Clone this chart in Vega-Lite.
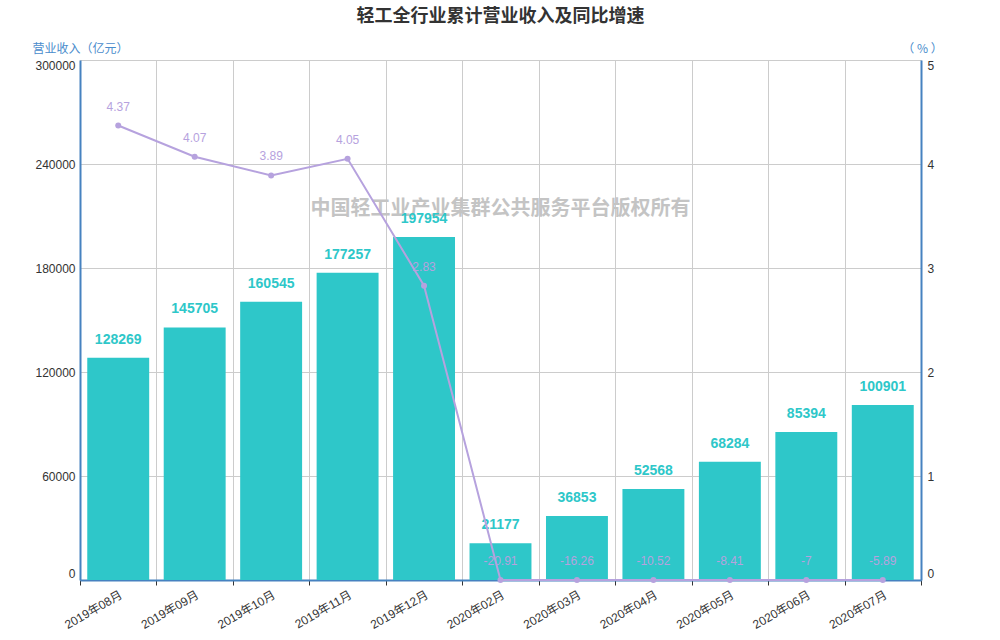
{
  "$schema": "https://vega.github.io/schema/vega-lite/v6.json",
  "autosize": {"type": "none"},
  "padding": {"left": 80, "top": 60, "right": 79, "bottom": 60},
  "width": 841,
  "height": 520,
  "background": "white",
  "title": {
    "text": "轻工全行业累计营业收入及同比增速",
    "font": "Noto Sans CJK SC",
    "fontSize": 18,
    "fontWeight": "bold",
    "color": "#333333",
    "anchor": "middle",
    "frame": "group",
    "offset": 16
  },
  "config": {
    "view": {"stroke": null},
    "axis": {
      "labelFont": "Liberation Sans, Noto Sans CJK SC",
      "labelFontSize": 12,
      "labelColor": "#333333",
      "titleFont": "Noto Sans CJK SC",
      "titleFontSize": 12,
      "titleFontWeight": "normal",
      "titleColor": "#4a8ccc",
      "gridColor": "#cccccc",
      "gridWidth": 1,
      "domainColor": "#4682c0",
      "domainWidth": 2
    }
  },
  "datasets": {
    "main": [
      {"month": "2019年08月", "revenue": 128269, "yoy": 4.37},
      {"month": "2019年09月", "revenue": 145705, "yoy": 4.07},
      {"month": "2019年10月", "revenue": 160545, "yoy": 3.89},
      {"month": "2019年11月", "revenue": 177257, "yoy": 4.05},
      {"month": "2019年12月", "revenue": 197954, "yoy": 2.83},
      {"month": "2020年02月", "revenue": 21177, "yoy": -20.91},
      {"month": "2020年03月", "revenue": 36853, "yoy": -16.26},
      {"month": "2020年04月", "revenue": 52568, "yoy": -10.52},
      {"month": "2020年05月", "revenue": 68284, "yoy": -8.41},
      {"month": "2020年06月", "revenue": 85394, "yoy": -7},
      {"month": "2020年07月", "revenue": 100901, "yoy": -5.89}
    ],
    "mark": [
      {"month": "2020年02月", "revenue": 214000, "label": "中国轻工业产业集群公共服务平台版权所有"}
    ]
  },
  "encoding": {
    "x": {
      "field": "month",
      "type": "nominal",
      "sort": null,
      "scale": {
        "domain": ["2019年08月", "2019年09月", "2019年10月", "2019年11月", "2019年12月", "2020年02月", "2020年03月", "2020年04月", "2020年05月", "2020年06月", "2020年07月"],
        "padding": 0
      },
      "axis": {
        "title": null,
        "labelAngle": -30,
        "labelAlign": "right",
        "labelBaseline": "top",
        "labelPadding": 4,
        "ticks": true,
        "tickBand": "extent",
        "tickColor": "#333333",
        "tickSize": 5,
        "grid": true
      }
    }
  },
  "layer": [
    {
      "data": {"name": "mark"},
      "mark": {
        "type": "text",
        "font": "Noto Sans CJK SC",
        "fontSize": 20,
        "fontWeight": "bold",
        "color": "#c4c4c4",
        "baseline": "middle",
        "align": "center"
      },
      "encoding": {
        "y": {"field": "revenue", "type": "quantitative", "scale": {"domain": [0, 300000]}, "axis": null},
        "text": {"field": "label"}
      }
    },
    {
      "data": {"name": "main"},
      "layer": [
        {
          "mark": {"type": "bar", "color": "#2ec7c9", "width": {"band": 0.81}},
          "encoding": {
            "y": {
              "field": "revenue",
              "type": "quantitative",
              "scale": {"domain": [0, 300000]},
              "axis": {
                "values": [0, 60000, 120000, 180000, 240000, 300000],
                "title": "营业收入（亿元）",
                "titleAngle": 0,
                "titleAlign": "left",
                "titleBaseline": "middle",
                "titleX": -48,
                "titleY": -12,
                "ticks": false,
                "labelPadding": 5,
                "labelFlush": true,
                "labelFlushOffset": 0,
                "grid": true,
                "format": "d"
              }
            }
          }
        },
        {
          "mark": {
            "type": "text",
            "font": "Liberation Sans",
            "fontSize": 14,
            "fontWeight": "bold",
            "color": "#2ec7c9",
            "baseline": "middle",
            "dy": -18
          },
          "encoding": {
            "y": {"field": "revenue", "type": "quantitative", "scale": {"domain": [0, 300000]}},
            "text": {"field": "revenue", "type": "quantitative", "format": "d"}
          }
        }
      ]
    },
    {
      "data": {"name": "main"},
      "layer": [
        {
          "mark": {
            "type": "line",
            "color": "#b6a2de",
            "strokeWidth": 2,
            "point": {"filled": true, "size": 36, "color": "#b6a2de"}
          },
          "encoding": {
            "y": {
              "field": "yoy",
              "type": "quantitative",
              "scale": {"domain": [0, 5], "clamp": true},
              "axis": {
                "orient": "right",
                "values": [0, 1, 2, 3, 4, 5],
                "format": "d",
                "title": "（ % ）",
                "titleAngle": 0,
                "titleAlign": "center",
                "titleBaseline": "middle",
                "titleX": 1,
                "titleY": -12,
                "ticks": false,
                "labelPadding": 6,
                "labelFlush": true,
                "labelFlushOffset": 0,
                "grid": false
              }
            }
          }
        },
        {
          "mark": {
            "type": "text",
            "font": "Liberation Sans",
            "fontSize": 12,
            "color": "#b6a2de",
            "baseline": "middle",
            "dy": -19
          },
          "encoding": {
            "y": {"field": "yoy", "type": "quantitative", "scale": {"domain": [0, 5], "clamp": true}},
            "text": {"field": "yoy", "type": "nominal"}
          }
        }
      ]
    }
  ],
  "resolve": {"scale": {"y": "independent"}}
}
